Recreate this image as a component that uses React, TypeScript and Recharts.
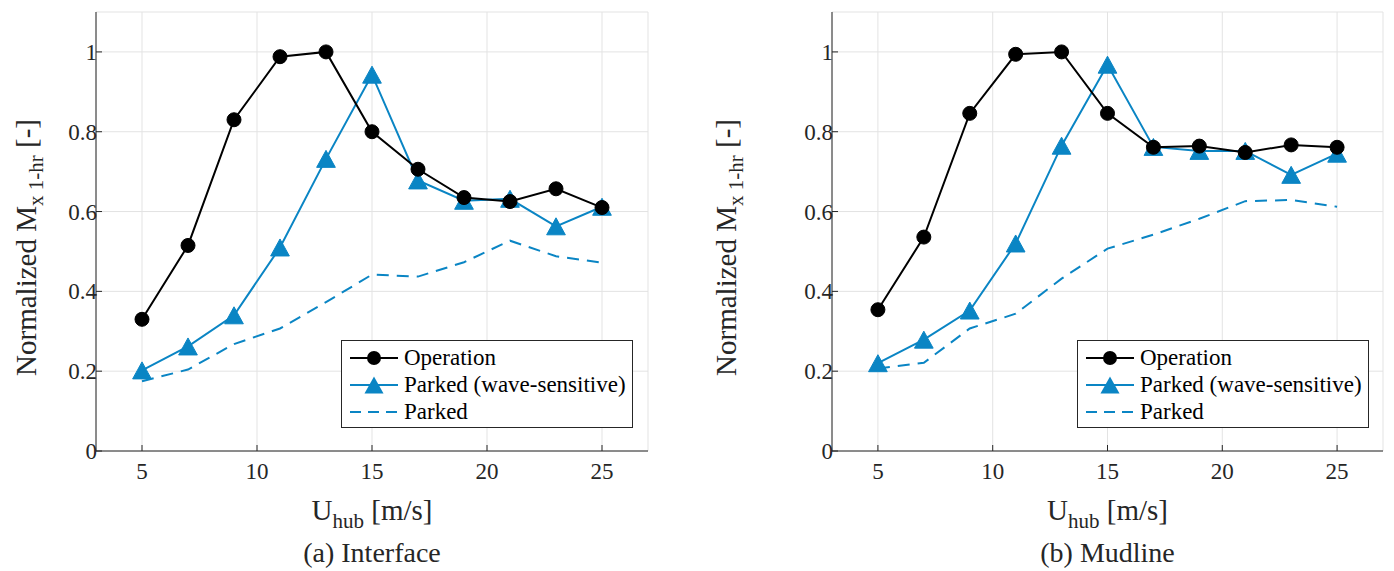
import React from 'react';
import { CartesianGrid, Label, Line, LineChart, XAxis, YAxis } from 'recharts';

const windSpeeds = [5, 7, 9, 11, 13, 15, 17, 19, 21, 23, 25];

const interfaceOperation = [0.33, 0.515, 0.83, 0.988, 1.0, 0.8, 0.706, 0.635, 0.625, 0.657, 0.61];
const interfaceParkedWave = [0.202, 0.262, 0.34, 0.51, 0.732, 0.943, 0.678, 0.627, 0.632, 0.563, 0.612];
const interfaceParked = [0.175, 0.204, 0.268, 0.307, 0.373, 0.442, 0.437, 0.473, 0.527, 0.488, 0.472];

const mudlineOperation = [0.354, 0.536, 0.846, 0.994, 1.0, 0.846, 0.761, 0.764, 0.748, 0.767, 0.761];
const mudlineParkedWave = [0.22, 0.279, 0.352, 0.52, 0.765, 0.968, 0.762, 0.752, 0.752, 0.692, 0.745];
const mudlineParked = [0.207, 0.221, 0.307, 0.344, 0.432, 0.507, 0.542, 0.582, 0.626, 0.629, 0.612];

const xTicks = [5, 10, 15, 20, 25];
const yTicks = [0, 0.2, 0.4, 0.6, 0.8, 1];
const legendNames = ['Operation', 'Parked (wave-sensitive)', 'Parked'];

const BLUE = '#0a85c4';
const AXIS = '#262626';
const FONT = "'Times New Roman', Tinos, 'Liberation Serif', 'Nimbus Roman', 'DejaVu Serif', FreeSerif, serif";
const DASH = '12 8';
const TICK_SIZE = 23;

type Point = { u: number; op: number; pw: number; pk: number };

function buildRows(op: number[], pw: number[], pk: number[]): Point[] {
  return windSpeeds.map((u, i) => ({ u, op: op[i], pw: pw[i], pk: pk[i] }));
}

function XTick(props: any) {
  const { x, y, payload } = props;
  return (
    <text x={x} y={y + 34} textAnchor="middle" fontSize={TICK_SIZE} fontFamily={FONT} fill={AXIS}>
      {payload.value}
    </text>
  );
}

function YTick(props: any) {
  const { x, y, payload } = props;
  return (
    <text x={x - 5} y={y + 8} textAnchor="end" fontSize={TICK_SIZE} fontFamily={FONT} fill={AXIS}>
      {String(Number(Number(payload.value).toFixed(1)))}
    </text>
  );
}

function Triangle(props: any) {
  const { cx, cy } = props;
  if (cx == null || cy == null) return null;
  const h = 8.5;
  return (
    <path
      d={`M${cx},${cy - h} L${cx + h * 1.1},${cy + h} L${cx - h * 1.1},${cy + h} Z`}
      fill={BLUE}
      stroke={BLUE}
    />
  );
}

function LegendBox({ left }: { left: number }) {
  return (
    <div
      style={{
        position: 'absolute',
        left,
        top: 340,
        width: 292,
        height: 88,
        boxSizing: 'border-box',
        border: `1px solid ${AXIS}`,
        background: '#fff',
        padding: '3px 8px',
        fontFamily: FONT,
        fontSize: 23,
        color: '#000',
      }}
    >
      {legendNames.map((name, i) => (
        <div key={name} style={{ display: 'flex', alignItems: 'center', height: 27, whiteSpace: 'nowrap' }}>
          <svg width={50} height={20} style={{ marginRight: 4, flex: 'none' }}>
            {i === 0 && (
              <>
                <line x1={0} y1={10} x2={48} y2={10} stroke="#000" strokeWidth={2} />
                <circle cx={24} cy={10} r={7} fill="#000" />
              </>
            )}
            {i === 1 && (
              <>
                <line x1={0} y1={10} x2={48} y2={10} stroke={BLUE} strokeWidth={2} />
                <path d="M24,1.5 L33.5,18.5 L14.5,18.5 Z" fill={BLUE} />
              </>
            )}
            {i === 2 && (
              <line x1={0} y1={10} x2={48} y2={10} stroke={BLUE} strokeWidth={2} strokeDasharray="11 7" />
            )}
          </svg>
          <span>{name}</span>
        </div>
      ))}
    </div>
  );
}

function YTitle(props: any) {
  const { viewBox } = props;
  const cy = viewBox.y + viewBox.height / 2 + 16;
  const x = viewBox.x + 36;
  return (
    <text
      transform={`translate(${x},${cy}) rotate(-90)`}
      textAnchor="middle"
      fontFamily={FONT}
      fontSize={29}
      fill={AXIS}
    >
      <tspan>Normalized M</tspan>
      <tspan fontSize={21} dy={7}>x 1-hr</tspan>
      <tspan dy={-7}> [-]</tspan>
    </text>
  );
}

function XTitle(caption: string) {
  return function XTitleContent(props: any) {
    const { viewBox } = props;
    const cx = viewBox.x + viewBox.width / 2;
    return (
      <g fontFamily={FONT} fill={AXIS}>
        <text x={cx} y={520} textAnchor="middle" fontSize={29}>
          <tspan>U</tspan>
          <tspan fontSize={21} dy={8}>hub</tspan>
          <tspan dy={-8}> [m/s]</tspan>
        </text>
        <text x={cx} y={562} textAnchor="middle" fontSize={28}>
          {caption}
        </text>
      </g>
    );
  };
}

function Panel({
  data,
  width,
  yAxisWidth,
  rightMargin,
  caption,
}: {
  data: Point[];
  width: number;
  yAxisWidth: number;
  rightMargin: number;
  caption: string;
}) {
  return (
    <LineChart width={width} height={571} data={data} margin={{ top: 12, right: rightMargin, left: 0, bottom: 80 }}>
      <CartesianGrid xAxisId="b" yAxisId="l" stroke="#e3e3e3" strokeWidth={1} />
      <XAxis
        xAxisId="b"
        dataKey="u"
        type="number"
        domain={[3, 27]}
        ticks={xTicks}
        interval={0}
        height={40}
        tick={<XTick />}
        tickSize={-6}
        tickMargin={0}
        stroke={AXIS}
        tickLine={{ stroke: AXIS }}
      >
        <Label content={XTitle(caption)} />
      </XAxis>
      <XAxis
        xAxisId="t"
        orientation="top"
        dataKey="u"
        type="number"
        domain={[3, 27]}
        ticks={xTicks}
        interval={0}
        height={0}
        tick={false}
        tickSize={-6}
        stroke={AXIS}
      />
      <YAxis
        yAxisId="l"
        type="number"
        domain={[0, 1.1]}
        ticks={yTicks}
        interval={0}
        width={yAxisWidth}
        tick={<YTick />}
        tickSize={-6}
        tickMargin={0}
        stroke={AXIS}
      >
        <Label content={<YTitle />} />
      </YAxis>
      <YAxis
        yAxisId="r"
        orientation="right"
        type="number"
        domain={[0, 1.1]}
        ticks={yTicks}
        interval={0}
        width={0}
        tick={false}
        tickSize={-6}
        stroke={AXIS}
      />
      <Line
        xAxisId="b"
        yAxisId="l"
        type="linear"
        dataKey="pk"
        stroke={BLUE}
        strokeWidth={2}
        strokeDasharray={DASH}
        dot={false}
        isAnimationActive={false}
      />
      <Line
        xAxisId="b"
        yAxisId="l"
        type="linear"
        dataKey="pw"
        stroke={BLUE}
        strokeWidth={2}
        dot={<Triangle />}
        isAnimationActive={false}
      />
      <Line
        xAxisId="b"
        yAxisId="l"
        type="linear"
        dataKey="op"
        stroke="#000"
        strokeWidth={2}
        dot={{ r: 7, fill: '#000', stroke: '#000', strokeWidth: 1 }}
        isAnimationActive={false}
      />
    </LineChart>
  );
}

export default function App() {
  return (
    <div style={{ position: 'fixed', left: 0, top: 0, width: 1394, height: 571, background: '#fff' }}>
      <div style={{ position: 'absolute', left: 0, top: 0 }}>
        <Panel
          data={buildRows(interfaceOperation, interfaceParkedWave, interfaceParked)}
          width={680}
          yAxisWidth={96}
          rightMargin={32}
          caption="(a) Interface"
        />
      </div>
      <div style={{ position: 'absolute', left: 700, top: 0 }}>
        <Panel
          data={buildRows(mudlineOperation, mudlineParkedWave, mudlineParked)}
          width={694}
          yAxisWidth={132}
          rightMargin={11}
          caption="(b) Mudline"
        />
      </div>
      <LegendBox left={341} />
      <LegendBox left={1077} />
    </div>
  );
}
